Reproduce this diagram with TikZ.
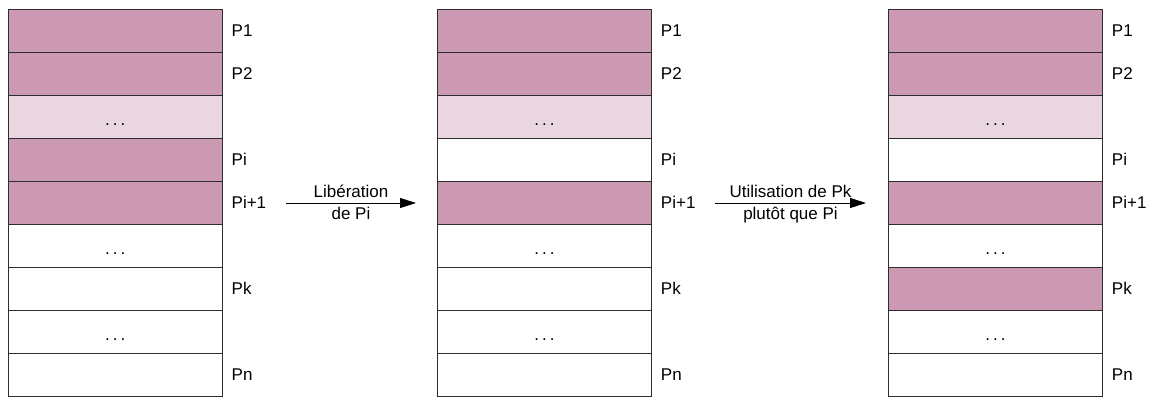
\documentclass[tikz,border=0pt]{standalone}
\usepackage{fontspec}
\setmainfont{Liberation Sans}
\usetikzlibrary{arrows.meta,positioning}
\definecolor{usedFill}{RGB}{204,153,179}
\definecolor{partFill}{RGB}{234,214,224}
\definecolor{cellStroke}{RGB}{45,45,45}
\colorlet{ink}{black}
\newcommand{\gap}{.\hspace{3pt}.\hspace{3pt}.}
\tikzset{
  arrow/.style={-{Triangle[length=16pt,width=10pt]}, draw=ink, line width=0.8pt},
  cell/.style={
    rectangle,
    draw=cellStroke,
    line width=0.8pt,
    minimum width=214.5pt,
    minimum height=43pt,
    inner sep=0pt,
    outer sep=0pt,
    text height=18pt,
    text depth=0pt,
    font=\fontsize{17}{20}\selectfont
  },
  used/.style={cell, fill=usedFill},
  part/.style={cell, fill=partFill},
  free/.style={cell, fill=white},
  tag/.style={anchor=west, inner sep=0pt, font=\fontsize{17}{20}\selectfont, text=ink},
  note/.style={inner sep=0pt, font=\fontsize{17}{20}\selectfont, text=ink}
}
% one column of pages: #1 prefix, #2 x of centre, #3 style/text per row
\newcommand{\PageColumn}[3]{%
  \foreach \kind/\txt [count=\row] in {#3} {
    \node[\kind] (#1\row) at (#2,{30.5+43*(\row-1)}) {\txt};
  }
  \foreach \row/\name in {1/P1,2/P2,4/Pi,5/Pi+1,7/Pk,9/Pn} {
    \node[tag] (#1tag\row) at ([xshift=9pt]#1\row.east) {\name};
  }
}

\begin{document}
\begin{tikzpicture}[x=1pt,y=-1pt]
  \useasboundingbox (0,0) rectangle (1150,396);

  \PageColumn{a}{115.25}{used/{},used/{},part/\gap,used/{},used/{},free/\gap,free/{},free/\gap,free/{}}
  \PageColumn{b}{544.5}{used/{},used/{},part/\gap,free/{},used/{},free/\gap,free/{},free/\gap,free/{}}
  \PageColumn{c}{995.5}{used/{},used/{},part/\gap,free/{},used/{},free/\gap,used/{},free/\gap,free/{}}

  \coordinate (freeStart) at (286,203);
  \coordinate (freeEnd) at (416,203);
  \coordinate (swapStart) at (715,203);
  \coordinate (swapEnd) at (866,203);

  \draw[arrow] (freeStart) -- (freeEnd)
    node[note, pos=0.5, anchor=south, yshift=5pt] {Libération}
    node[note, pos=0.5, anchor=north, yshift=-4pt] {de Pi};
  \draw[arrow] (swapStart) -- (swapEnd)
    node[note, pos=0.5, anchor=south, yshift=5pt] {Utilisation de Pk}
    node[note, pos=0.5, anchor=north, yshift=-4pt] {plutôt que Pi};
\end{tikzpicture}
\end{document}
